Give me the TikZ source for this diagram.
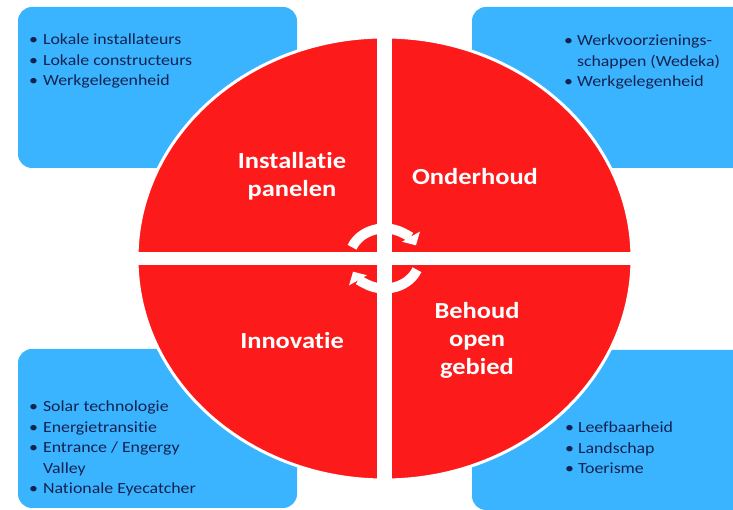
\documentclass[tikz,border=0pt]{standalone}
\usepackage{fontspec}
\setmainfont{Carlito}[FakeStretch=1.15,Ligatures={NoCommon,NoRequired},Contextuals=NoAlternate]
\usetikzlibrary{arrows.meta}
\definecolor{ringred}{RGB}{252,26,26}
\definecolor{boxblue}{RGB}{58,180,255}
\definecolor{listnavy}{RGB}{20,34,80}
\newcommand{\bul}{\textbullet}
\begin{document}
\begin{tikzpicture}[x=1pt,y=1pt,
    infobox/.style={fill=boxblue,rounded corners=14pt},
    quadlabel/.style={text=white,font=\fontsize{23}{28}\selectfont\bfseries,align=center,inner sep=0pt},
    infolist/.style={text=listnavy,font=\fontsize{15.5}{20.5}\selectfont,anchor=base west,inner sep=0pt},
    cyclearrow/.style={white,line width=10pt,-{Triangle[width=20pt,length=10pt]}}]
        \useasboundingbox (0,0) rectangle (733,510);
        %% blue boxes
        \fill[infobox] (18,342) rectangle (297,503);
        \fill[infobox] (472,342) rectangle (760,503);
        \fill[infobox] (18,2) rectangle (297,161);
        \fill[infobox] (472,0) rectangle (760,160);
        %% red disc and cross
        \coordinate (hub) at (384.5,251.5);
        \draw[fill=ringred,draw=white,line width=3pt] (hub) ellipse [x radius=247.5,y radius=221.5];
        \fill[white] (377,20) rectangle (392,483);
        \fill[white] (130,245) rectangle (640,258);
        %% cycle
        \draw[cyclearrow] ([shift={(158:35 and 30)}]hub) arc[start angle=158,end angle=26,x radius=35,y radius=30];
        \draw[cyclearrow] ([shift={(-22:35 and 30)}]hub) arc[start angle=-22,end angle=-154,x radius=35,y radius=30];
        %% quadrant labels
        \node[quadlabel] (install) at (292,334) {Installatie\\panelen};
        \node[quadlabel] (onderhoud) at (475,333) {Onderhoud};
        \node[quadlabel] (innovatie) at (292,169) {Innovatie};
        \node[quadlabel] (behoud) at (477,170) {Behoud\\open\\gebied};
        %% lists
        \node[infolist] (lokaal) at (29,465) {\begin{tabular}[t]{@{}l@{\hspace{5pt}}l@{}}
            \bul & Lokale installateurs\\
            \bul & Lokale constructeurs\\
            \bul & Werkgelegenheid
        \end{tabular}};
        \node[infolist] (wedeka) at (564,464) {\begin{tabular}[t]{@{}l@{\hspace{4pt}}l@{}}
            \bul & Werkvoorzienings-\\
                 & schappen (Wedeka)\\
            \bul & Werkgelegenheid
        \end{tabular}};
        \node[infolist] (energie) at (29,98) {\begin{tabular}[t]{@{}l@{\hspace{5pt}}l@{}}
            \bul & Solar technologie\\
            \bul & Energietransitie\\
            \bul & Entrance / Engergy\\
                 & Valley\\
            \bul & Nationale Eyecatcher
        \end{tabular}};
        \node[infolist] (leefbaar) at (565,77) {\begin{tabular}[t]{@{}l@{\hspace{4pt}}l@{}}
            \bul & Leefbaarheid\\
            \bul & Landschap\\
            \bul & Toerisme
        \end{tabular}};
\end{tikzpicture}
\end{document}
